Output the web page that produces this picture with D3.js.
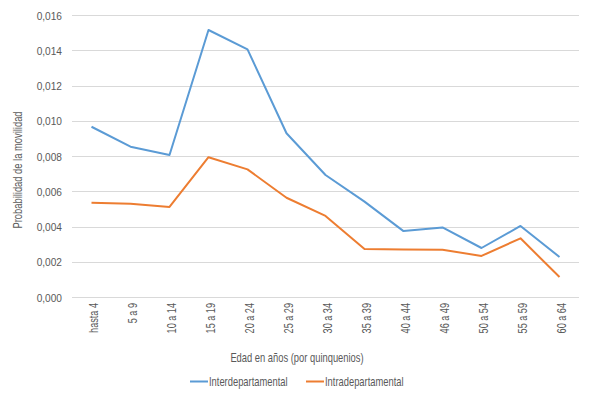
<!DOCTYPE html>
<html><head><meta charset="utf-8">
<script src="https://cdn.jsdelivr.net/npm/d3@7"></script>
<style>
body{margin:0;background:#fff;}
text{font-family:"Liberation Sans",Arial,sans-serif;fill:#595959;}
</style></head>
<body><svg id="c" width="591" height="394"></svg>
<script>
const categories = ["hasta 4","5 a 9","10 a 14","15 a 19","20 a 24","25 a 29","30 a 34","35 a 39","40 a 44","46 a 49","50 a 54","55 a 59","60 a 64"];
const inter = [0.00966,0.00853,0.00806,0.01515,0.01405,0.00929,0.00692,0.00541,0.00374,0.00395,0.00278,0.00403,0.00227];
const intra = [0.00535,0.00529,0.00511,0.00793,0.00724,0.00563,0.00460,0.00272,0.00270,0.00268,0.00233,0.00333,0.00113];
const yTicks = [0,0.002,0.004,0.006,0.008,0.010,0.012,0.014,0.016];
const seriesNames = ["Interdepartamental","Intradepartamental"];
const colors = ["#5B9BD5","#ED7D31"];

const svg = d3.select("#c");
const x = d3.scaleBand().domain(categories).range([72,579]);
const y = d3.scaleLinear().domain([0,0.016]).range([297,15]);
const fmt = v => d3.format(".3f")(v).replace(".",",");

// condense text to mimic a narrow font
function condense(sel, f){
  sel.each(function(){
    const L = this.getComputedTextLength();
    d3.select(this).attr("textLength", L*f).attr("lengthAdjust","spacingAndGlyphs");
  });
}

// gridlines
svg.append("g").selectAll("line").data(yTicks).join("line")
  .attr("x1",72).attr("x2",579)
  .attr("y1",d=>Math.round(y(d))+0.5).attr("y2",d=>Math.round(y(d))+0.5)
  .attr("stroke","#D9D9D9").attr("stroke-width",1);

// y labels
svg.append("g").selectAll("text").data(yTicks).join("text")
  .attr("x",62).attr("y",d=>y(d)+4.5)
  .attr("text-anchor","end").attr("font-size",11.5).text(fmt)
  .call(condense,0.88);

// x labels
svg.append("g").selectAll("text").data(categories).join("text")
  .attr("transform",d=>`translate(${x(d)+x.bandwidth()/2+6},303) rotate(-90)`)
  .attr("text-anchor","end").attr("font-size",12).text(d=>d)
  .call(condense,0.76);

// lines
const line = d3.line().x((d,i)=>x(categories[i])+x.bandwidth()/2).y(d=>y(d));
[inter,intra].forEach((s,k)=>{
  svg.append("path").datum(s).attr("d",line).attr("fill","none")
    .attr("stroke",colors[k]).attr("stroke-width",2).attr("stroke-linejoin","round");
});

// axis titles
svg.append("text").attr("x",297).attr("y",362).attr("text-anchor","middle")
  .attr("font-size",13).text("Edad en años (por quinquenios)").call(condense,0.72);
svg.append("text").attr("transform","translate(22,170) rotate(-90)").attr("text-anchor","middle")
  .attr("font-size",13).text("Probabilidad de la movilidad").call(condense,0.72);

// legend
const lx = [190,306];
seriesNames.forEach((n,k)=>{
  svg.append("line").attr("x1",lx[k]).attr("x2",lx[k]+18).attr("y1",381.5).attr("y2",381.5)
    .attr("stroke",colors[k]).attr("stroke-width",2);
  svg.append("text").attr("x",lx[k]+19).attr("y",386).attr("font-size",13).text(n)
    .call(condense,0.72);
});
</script></body></html>
